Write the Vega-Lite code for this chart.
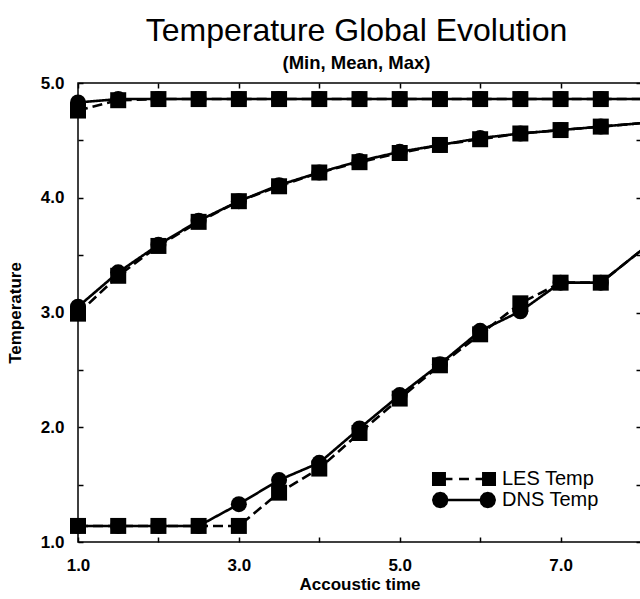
{
  "$schema": "https://vega.github.io/schema/vega-lite/v6.json",
  "autosize": {"type": "none"},
  "padding": {"left": 78, "top": 83, "right": 0, "bottom": 57},
  "width": 563,
  "height": 459,
  "background": "white",
  "title": {
    "text": "Temperature Global Evolution",
    "subtitle": "(Min, Mean, Max)",
    "font": "Liberation Sans",
    "fontSize": 32,
    "fontWeight": "normal",
    "color": "black",
    "subtitleFont": "Liberation Sans",
    "subtitleFontSize": 18.5,
    "subtitleFontWeight": "bold",
    "subtitleColor": "black",
    "anchor": "middle",
    "offset": 1,
    "subtitlePadding": 6,
    "dx": -3
  },
  "config": {
    "view": {"stroke": "black", "strokeWidth": 1.5},
    "axis": {
      "grid": false,
      "domain": false,
      "tickColor": "black",
      "tickWidth": 1.5,
      "tickSize": -5,
      "labelFont": "Liberation Sans",
      "labelFontWeight": "bold",
      "labelFontSize": 17,
      "labelColor": "black",
      "titleFont": "Liberation Sans",
      "titleFontWeight": "bold",
      "titleFontSize": 17,
      "titleColor": "black"
    }
  },
  "data": {
    "values": [
      {"x": 1.0, "T": 4.76, "model": "LES Temp", "stat": "max"},
      {"x": 1.5, "T": 4.85, "model": "LES Temp", "stat": "max"},
      {"x": 2.0, "T": 4.86, "model": "LES Temp", "stat": "max"},
      {"x": 2.5, "T": 4.86, "model": "LES Temp", "stat": "max"},
      {"x": 3.0, "T": 4.86, "model": "LES Temp", "stat": "max"},
      {"x": 3.5, "T": 4.86, "model": "LES Temp", "stat": "max"},
      {"x": 4.0, "T": 4.86, "model": "LES Temp", "stat": "max"},
      {"x": 4.5, "T": 4.86, "model": "LES Temp", "stat": "max"},
      {"x": 5.0, "T": 4.86, "model": "LES Temp", "stat": "max"},
      {"x": 5.5, "T": 4.86, "model": "LES Temp", "stat": "max"},
      {"x": 6.0, "T": 4.86, "model": "LES Temp", "stat": "max"},
      {"x": 6.5, "T": 4.86, "model": "LES Temp", "stat": "max"},
      {"x": 7.0, "T": 4.86, "model": "LES Temp", "stat": "max"},
      {"x": 7.5, "T": 4.86, "model": "LES Temp", "stat": "max"},
      {"x": 8.0, "T": 4.86, "model": "LES Temp", "stat": "max"},
      {"x": 1.0, "T": 2.99, "model": "LES Temp", "stat": "mean"},
      {"x": 1.5, "T": 3.32, "model": "LES Temp", "stat": "mean"},
      {"x": 2.0, "T": 3.58, "model": "LES Temp", "stat": "mean"},
      {"x": 2.5, "T": 3.79, "model": "LES Temp", "stat": "mean"},
      {"x": 3.0, "T": 3.97, "model": "LES Temp", "stat": "mean"},
      {"x": 3.5, "T": 4.10, "model": "LES Temp", "stat": "mean"},
      {"x": 4.0, "T": 4.22, "model": "LES Temp", "stat": "mean"},
      {"x": 4.5, "T": 4.31, "model": "LES Temp", "stat": "mean"},
      {"x": 5.0, "T": 4.39, "model": "LES Temp", "stat": "mean"},
      {"x": 5.5, "T": 4.46, "model": "LES Temp", "stat": "mean"},
      {"x": 6.0, "T": 4.51, "model": "LES Temp", "stat": "mean"},
      {"x": 6.5, "T": 4.56, "model": "LES Temp", "stat": "mean"},
      {"x": 7.0, "T": 4.59, "model": "LES Temp", "stat": "mean"},
      {"x": 7.5, "T": 4.62, "model": "LES Temp", "stat": "mean"},
      {"x": 8.0, "T": 4.65, "model": "LES Temp", "stat": "mean"},
      {"x": 1.0, "T": 1.14, "model": "LES Temp", "stat": "min"},
      {"x": 1.5, "T": 1.14, "model": "LES Temp", "stat": "min"},
      {"x": 2.0, "T": 1.14, "model": "LES Temp", "stat": "min"},
      {"x": 2.5, "T": 1.14, "model": "LES Temp", "stat": "min"},
      {"x": 3.0, "T": 1.14, "model": "LES Temp", "stat": "min"},
      {"x": 3.5, "T": 1.43, "model": "LES Temp", "stat": "min"},
      {"x": 4.0, "T": 1.64, "model": "LES Temp", "stat": "min"},
      {"x": 4.5, "T": 1.95, "model": "LES Temp", "stat": "min"},
      {"x": 5.0, "T": 2.25, "model": "LES Temp", "stat": "min"},
      {"x": 5.5, "T": 2.54, "model": "LES Temp", "stat": "min"},
      {"x": 6.0, "T": 2.81, "model": "LES Temp", "stat": "min"},
      {"x": 6.5, "T": 3.08, "model": "LES Temp", "stat": "min"},
      {"x": 7.0, "T": 3.26, "model": "LES Temp", "stat": "min"},
      {"x": 7.5, "T": 3.26, "model": "LES Temp", "stat": "min"},
      {"x": 8.0, "T": 3.54, "model": "LES Temp", "stat": "min"},
      {"x": 1.0, "T": 4.83, "model": "DNS Temp", "stat": "max"},
      {"x": 1.5, "T": 4.86, "model": "DNS Temp", "stat": "max"},
      {"x": 2.0, "T": 4.86, "model": "DNS Temp", "stat": "max"},
      {"x": 2.5, "T": 4.86, "model": "DNS Temp", "stat": "max"},
      {"x": 3.0, "T": 4.86, "model": "DNS Temp", "stat": "max"},
      {"x": 3.5, "T": 4.86, "model": "DNS Temp", "stat": "max"},
      {"x": 4.0, "T": 4.86, "model": "DNS Temp", "stat": "max"},
      {"x": 4.5, "T": 4.86, "model": "DNS Temp", "stat": "max"},
      {"x": 5.0, "T": 4.86, "model": "DNS Temp", "stat": "max"},
      {"x": 5.5, "T": 4.86, "model": "DNS Temp", "stat": "max"},
      {"x": 6.0, "T": 4.86, "model": "DNS Temp", "stat": "max"},
      {"x": 6.5, "T": 4.86, "model": "DNS Temp", "stat": "max"},
      {"x": 7.0, "T": 4.86, "model": "DNS Temp", "stat": "max"},
      {"x": 7.5, "T": 4.86, "model": "DNS Temp", "stat": "max"},
      {"x": 8.0, "T": 4.86, "model": "DNS Temp", "stat": "max"},
      {"x": 1.0, "T": 3.05, "model": "DNS Temp", "stat": "mean"},
      {"x": 1.5, "T": 3.35, "model": "DNS Temp", "stat": "mean"},
      {"x": 2.0, "T": 3.59, "model": "DNS Temp", "stat": "mean"},
      {"x": 2.5, "T": 3.80, "model": "DNS Temp", "stat": "mean"},
      {"x": 3.0, "T": 3.97, "model": "DNS Temp", "stat": "mean"},
      {"x": 3.5, "T": 4.11, "model": "DNS Temp", "stat": "mean"},
      {"x": 4.0, "T": 4.22, "model": "DNS Temp", "stat": "mean"},
      {"x": 4.5, "T": 4.32, "model": "DNS Temp", "stat": "mean"},
      {"x": 5.0, "T": 4.40, "model": "DNS Temp", "stat": "mean"},
      {"x": 5.5, "T": 4.46, "model": "DNS Temp", "stat": "mean"},
      {"x": 6.0, "T": 4.52, "model": "DNS Temp", "stat": "mean"},
      {"x": 6.5, "T": 4.56, "model": "DNS Temp", "stat": "mean"},
      {"x": 7.0, "T": 4.59, "model": "DNS Temp", "stat": "mean"},
      {"x": 7.5, "T": 4.62, "model": "DNS Temp", "stat": "mean"},
      {"x": 8.0, "T": 4.65, "model": "DNS Temp", "stat": "mean"},
      {"x": 1.0, "T": 1.14, "model": "DNS Temp", "stat": "min"},
      {"x": 1.5, "T": 1.14, "model": "DNS Temp", "stat": "min"},
      {"x": 2.0, "T": 1.14, "model": "DNS Temp", "stat": "min"},
      {"x": 2.5, "T": 1.14, "model": "DNS Temp", "stat": "min"},
      {"x": 3.0, "T": 1.33, "model": "DNS Temp", "stat": "min"},
      {"x": 3.5, "T": 1.54, "model": "DNS Temp", "stat": "min"},
      {"x": 4.0, "T": 1.69, "model": "DNS Temp", "stat": "min"},
      {"x": 4.5, "T": 1.99, "model": "DNS Temp", "stat": "min"},
      {"x": 5.0, "T": 2.28, "model": "DNS Temp", "stat": "min"},
      {"x": 5.5, "T": 2.55, "model": "DNS Temp", "stat": "min"},
      {"x": 6.0, "T": 2.84, "model": "DNS Temp", "stat": "min"},
      {"x": 6.5, "T": 3.01, "model": "DNS Temp", "stat": "min"},
      {"x": 7.0, "T": 3.26, "model": "DNS Temp", "stat": "min"},
      {"x": 7.5, "T": 3.26, "model": "DNS Temp", "stat": "min"},
      {"x": 8.0, "T": 3.54, "model": "DNS Temp", "stat": "min"}
    ]
  },
  "layer": [
    {
      "mark": {"type": "line", "color": "black", "strokeWidth": 2.6, "clip": true},
      "encoding": {
        "x": {
          "field": "x", "type": "quantitative",
          "scale": {"domain": [1, 8], "nice": false, "zero": false},
          "axis": {
            "orient": "bottom",
            "title": "Accoustic time",
            "values": [1, 2, 3, 4, 5, 6, 7, 8],
            "labelExpr": "datum.value % 2 == 1 ? format(datum.value, '.1f') : ''",
            "labelPadding": 20,
            "labelFlush": false,
            "titlePadding": 3
          }
        },
        "y": {
          "field": "T", "type": "quantitative",
          "scale": {"domain": [1, 5], "nice": false, "zero": false},
          "axis": {
            "orient": "left",
            "title": "Temperature",
            "values": [1, 1.5, 2, 2.5, 3, 3.5, 4, 4.5, 5],
            "labelExpr": "datum.value % 1 == 0 ? format(datum.value, '.1f') : ''",
            "labelPadding": 19,
            "labelFlush": false,
            "titlePadding": 16
          }
        },
        "detail": {"field": "stat"},
        "strokeDash": {
          "field": "model", "type": "nominal",
          "scale": {"domain": ["LES Temp", "DNS Temp"], "range": [[10, 5], [1, 0]]},
          "legend": null
        }
      }
    },
    {
      "transform": [{"filter": "datum.x <= 7.5"}],
      "mark": {"type": "point", "filled": true, "color": "black", "opacity": 1, "size": 256},
      "encoding": {
        "x": {
          "field": "x", "type": "quantitative",
          "axis": {"orient": "top", "labels": false, "title": null, "values": [1, 2, 3, 4, 5, 6, 7, 8]}
        },
        "y": {
          "field": "T", "type": "quantitative",
          "axis": {"orient": "right", "labels": false, "title": null, "values": [1, 1.5, 2, 2.5, 3, 3.5, 4, 4.5, 5]}
        },
        "shape": {
          "field": "model", "type": "nominal",
          "scale": {"domain": ["LES Temp", "DNS Temp"], "range": ["square", "circle"]},
          "legend": null
        }
      }
    },
    {
      "transform": [{"filter": "datum.x > 100"}],
      "mark": {"type": "point", "filled": true, "fill": "black", "opacity": 1, "size": 484},
      "encoding": {
        "x": {"field": "x", "type": "quantitative", "axis": null},
        "y": {"field": "T", "type": "quantitative", "axis": null},
        "shape": {
          "field": "model", "type": "nominal",
          "scale": {
            "domain": ["LES Temp", "DNS Temp"],
            "range": [
              "M-2.91,-0.64L-1.64,-0.64L-1.64,0.64L-2.91,0.64Z M1.64,-0.64L2.91,-0.64L2.91,0.64L1.64,0.64Z M-1.7,-0.12L-1.05,-0.12L-1.05,0.12L-1.7,0.12Z M-0.45,-0.12L0.45,-0.12L0.45,0.12L-0.45,0.12Z M1.05,-0.12L1.7,-0.12L1.7,0.12L1.05,0.12Z",
              "M-1.41,0L-1.51,0.375L-1.785,0.65L-2.16,0.75L-2.535,0.65L-2.81,0.375L-2.91,0L-2.81,-0.375L-2.535,-0.65L-2.16,-0.75L-1.785,-0.65L-1.51,-0.375Z M2.91,0L2.81,0.375L2.535,0.65L2.16,0.75L1.785,0.65L1.51,0.375L1.41,0L1.51,-0.375L1.785,-0.65L2.16,-0.75L2.535,-0.65L2.81,-0.375Z M-1.5,-0.12L1.5,-0.12L1.5,0.12L-1.5,0.12Z"
            ]
          },
          "legend": {
            "title": null,
            "orient": "none",
            "legendX": 354,
            "legendY": 385,
            "padding": 0,
            "symbolSize": 484,
            "symbolStrokeWidth": 0,
            "symbolFillColor": "black",
            "symbolOpacity": 1,
            "symbolOffset": 21,
            "labelOffset": 27,
            "rowPadding": -3,
            "labelFont": "Liberation Sans",
            "labelFontSize": 20,
            "labelColor": "black",
            "encode": {
              "symbols": {
                "fill": {"value": "black"}
              }
            }
          }
        }
      }
    }
  ],
  "resolve": {
    "axis": {"x": "independent", "y": "independent"},
    "scale": {"shape": "independent"}
  }
}
